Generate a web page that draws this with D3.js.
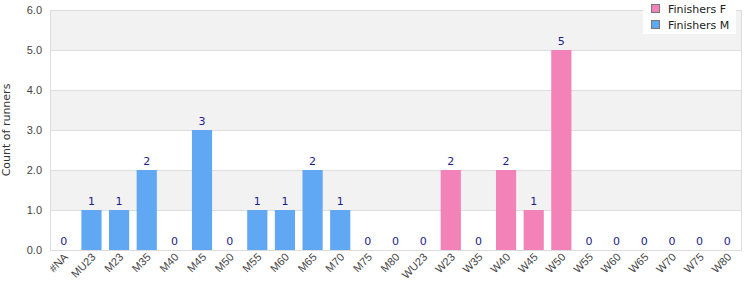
<!DOCTYPE html>
<html><head><meta charset="utf-8">
<script src="https://cdn.jsdelivr.net/npm/d3@7"></script>
<style>
body{margin:0;background:#fff;}
svg{font-family:"DejaVu Sans",Verdana,sans-serif;display:block;}
.tick text{fill:#444;font-size:11px;}
</style></head>
<body><svg id="chart"></svg>
<script>
'use strict';
// categories + counts per category, F and M series
const categories=['#NA','MU23','M23','M35','M40','M45','M50','M55','M60','M65','M70','M75','M80','WU23','W23','W35','W40','W45','W50','W55','W60','W65','W70','W75','W80'];
const seriesNames=['Finishers F','Finishers M'];
const counts=[0,1,1,2,0,3,0,1,1,2,1,0,0,0,2,0,2,1,5,0,0,0,0,0,0];
const seriesOf=['M','M','M','M','M','M','M','M','M','M','M','M','M','F','F','F','F','F','F','F','F','F','F','F','F'];
const yTicks=[0,1,2,3,4,5,6];

const W=750,H=300;
const m={top:10,right:9,bottom:50,left:50}, w=W-m.left-m.right, h=H-m.top-m.bottom;
const colors={F:'#f282b8',M:'#60a8f3'};

const svg=d3.select('#chart').attr('width',W).attr('height',H);
const g=svg.append('g').attr('transform',`translate(${m.left},${m.top})`);

const x=d3.scaleBand().domain(categories).range([0,w]).paddingInner(0.27).paddingOuter(0.135);
const y=d3.scaleLinear().domain([0,6]).range([h,0]);

// alternating bands
g.selectAll('.band').data(yTicks.slice(0,-1)).join('rect').attr('class','band')
  .attr('x',0).attr('width',w).attr('y',d=>y(d+1)).attr('height',d=>y(d)-y(d+1))
  .attr('fill',d=>d%2===1?'#f2f2f2':'#fff');
g.selectAll('.grid').data(yTicks).join('line').attr('class','grid')
  .attr('x1',0).attr('x2',w).attr('y1',d=>y(d)+0.5).attr('y2',d=>y(d)+0.5)
  .attr('stroke','#dedede');
g.append('rect').attr('x',0.5).attr('y',0.5).attr('width',w).attr('height',h)
  .attr('fill','none').attr('stroke','#dcdcdc');

// y axis
const ya=g.append('g').call(d3.axisLeft(y).tickValues(yTicks).tickFormat(d3.format('.1f')).tickSize(0).tickPadding(8));
ya.select('.domain').remove();
svg.append('text').attr('transform',`translate(10,${m.top+h/2}) rotate(-90)`)
  .attr('text-anchor','middle').attr('font-size',11).attr('fill','#333').text('Count of runners');

// x axis
const xa=g.append('g').attr('transform',`translate(0,${h})`).call(d3.axisBottom(x).tickSize(0));
xa.select('.domain').remove();
xa.selectAll('text').attr('text-anchor','end').attr('dx','-2px').attr('dy','6px')
  .attr('transform','rotate(-45)');

// bars
g.selectAll('.bar').data(categories).join('rect').attr('class','bar')
  .attr('x',d=>x(d)).attr('width',x.bandwidth())
  .attr('y',(d,i)=>y(counts[i])).attr('height',(d,i)=>y(0)-y(counts[i]))
  .attr('fill',(d,i)=>colors[seriesOf[i]]);
g.selectAll('.val').data(categories).join('text').attr('class','val')
  .attr('x',d=>x(d)+x.bandwidth()/2).attr('y',(d,i)=>y(counts[i])-5)
  .attr('text-anchor','middle').attr('font-size',11).attr('fill','#1c1c8c')
  .text((d,i)=>counts[i]);

// legend
const lg=svg.append('g').attr('transform','translate(643,0)');
lg.append('rect').attr('width',93).attr('height',34).attr('fill','#fff');
seriesNames.forEach((s,i)=>{
  lg.append('rect').attr('x',8.5).attr('y',4.5+i*16).attr('width',8).attr('height',8)
    .attr('fill',colors[s.slice(-1)]).attr('stroke','#777');
  lg.append('text').attr('x',25).attr('y',9+i*16).attr('dominant-baseline','central')
    .attr('font-size',11).attr('fill','#222').text(s);
});
</script></body></html>
